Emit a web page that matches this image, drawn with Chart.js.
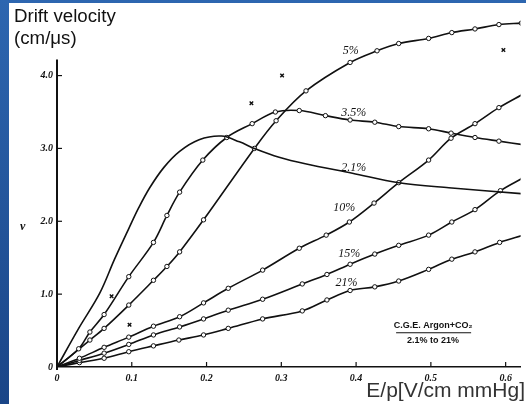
<!DOCTYPE html>
<html>
<head>
<meta charset="utf-8">
<script src="https://cdn.jsdelivr.net/npm/chart.js@4.4.1/dist/chart.umd.min.js"></script>
<style>
  html, body { margin: 0; padding: 0; }
  body { width: 526px; height: 404px; position: relative; overflow: hidden;
         background: linear-gradient(to bottom, #2d66b0, #1a4587); }
  #paper { position: absolute; left: 9px; top: 3px; right: 0; bottom: 0; background: #fff; }
  #wrap { position: absolute; left: 0; top: 0; width: 526px; height: 404px; }
  .txt { position: absolute; font-family: 'Liberation Sans', Arial, sans-serif; white-space: nowrap; }
  #title { left: 14px; top: 5px; font-size: 18.7px; line-height: 22px; color: #111; }
  #xname { right: 1px; top: 378px; font-size: 21px; line-height: 24px; color: #333; }
  #vname { left: 20px; top: 219px; font: italic bold 12px 'Liberation Serif', serif; color: #111; }
</style>
</head>
<body>
<div id="paper"></div>
<div id="wrap"><canvas id="driftChart" width="526" height="404"></canvas></div>
<div class="txt" id="title">Drift velocity<br>(cm/μs)</div>
<div class="txt" id="xname">E/p[V/cm mmHg]</div>
<div class="txt" id="vname">v</div>
<script>
// E/p values (V/cm mmHg) and drift velocity (cm/us) for each CO2 fraction
let ep21 = [0, 0.029, 0.057, 0.077, 0.096, 0.109, 0.124, 0.143, 0.164, 0.19, 0.22, 0.244, 0.264, 0.297, 0.332, 0.395, 0.457, 0.524, 0.621];
let v21 = [0, 0.53, 1.01, 1.48, 1.9, 2.18, 2.46, 2.74, 2.96, 3.12, 3.17, 3.09, 3.0, 2.88, 2.79, 2.66, 2.53, 2.46, 2.38];

let ep35 = [0, 0.029, 0.044, 0.063, 0.096, 0.129, 0.147, 0.164, 0.195, 0.227, 0.261, 0.292, 0.324, 0.359, 0.392, 0.425, 0.457, 0.497, 0.527, 0.559, 0.591, 0.624];
let v35 = [0, 0.25, 0.48, 0.72, 1.24, 1.71, 2.08, 2.40, 2.84, 3.15, 3.34, 3.50, 3.52, 3.45, 3.39, 3.36, 3.30, 3.27, 3.21, 3.15, 3.10, 3.05];

let ep5 = [0, 0.044, 0.063, 0.096, 0.129, 0.147, 0.164, 0.196, 0.264, 0.293, 0.333, 0.392, 0.428, 0.457, 0.497, 0.528, 0.559, 0.591, 0.621];
let v5 = [0, 0.37, 0.53, 0.85, 1.19, 1.38, 1.58, 2.02, 3.0, 3.38, 3.79, 4.18, 4.34, 4.44, 4.51, 4.59, 4.64, 4.70, 4.72];

let ep10 = [0, 0.03, 0.063, 0.096, 0.129, 0.164, 0.196, 0.229, 0.275, 0.324, 0.36, 0.391, 0.424, 0.457, 0.497, 0.527, 0.559, 0.591, 0.624];
let v10 = [0, 0.12, 0.27, 0.41, 0.56, 0.69, 0.88, 1.08, 1.33, 1.63, 1.81, 1.99, 2.25, 2.53, 2.84, 3.14, 3.34, 3.56, 3.75];

let ep15 = [0, 0.03, 0.063, 0.096, 0.129, 0.164, 0.196, 0.229, 0.275, 0.328, 0.361, 0.392, 0.425, 0.457, 0.497, 0.528, 0.559, 0.593, 0.624];
let v15 = [0, 0.09, 0.19, 0.31, 0.44, 0.55, 0.66, 0.78, 0.93, 1.14, 1.27, 1.41, 1.55, 1.67, 1.81, 1.99, 2.16, 2.42, 2.60];

let ep21p = [0, 0.03, 0.063, 0.096, 0.129, 0.163, 0.196, 0.229, 0.275, 0.328, 0.361, 0.392, 0.425, 0.457, 0.497, 0.528, 0.559, 0.592, 0.624];
let v21p = [0, 0.06, 0.12, 0.21, 0.29, 0.37, 0.44, 0.53, 0.66, 0.77, 0.92, 1.05, 1.10, 1.18, 1.34, 1.48, 1.58, 1.71, 1.81];

// stray "x" readings
let crossEp = [0.301, 0.26, 0.597, 0.073, 0.097];
let crossV = [4.0, 3.62, 4.35, 0.97, 0.58];

let xTicks = [0, 0.1, 0.2, 0.3, 0.4, 0.5, 0.6];
let yTicks = [0, 1, 2, 3, 4];

// curve labels: text, E/p, v
let curveLabels = [
    ['5%', 0.393, 4.34],
    ['3.5%', 0.397, 3.49],
    ['2.1%', 0.397, 2.73],
    ['10%', 0.384, 2.18],
    ['15%', 0.391, 1.55],
    ['21%', 0.387, 1.15]
];

function pts(xs, ys) {
    return xs.map((x, i) => ({ x: x, y: ys[i] }));
}

function curve(xs, ys, marks) {
    return {
        data: pts(xs, ys),
        showLine: true,
        borderColor: '#111',
        borderWidth: 1.6,
        tension: 0.35,
        pointRadius: (c) => (marks && c.dataIndex > 0) ? 2.2 : 0,
        pointBackgroundColor: '#fff',
        pointBorderColor: '#111',
        pointBorderWidth: 1
    };
}

let paperPlugin = {
    id: 'paper',
    afterDraw(chart) {
        let ctx = chart.ctx;
        let xs = chart.scales.x, ys = chart.scales.y;
        let x0 = xs.getPixelForValue(0), y0 = ys.getPixelForValue(0);
        ctx.save();
        ctx.strokeStyle = '#111';
        // vertical axis, stops short of the top
        ctx.lineWidth = 2;
        ctx.beginPath();
        ctx.moveTo(x0, y0 + 3);
        ctx.lineTo(x0, ys.getPixelForValue(4.22));
        ctx.stroke();
        // inward tick marks
        ctx.lineWidth = 1.2;
        yTicks.slice(1).forEach(v => {
            let p = ys.getPixelForValue(v);
            ctx.beginPath(); ctx.moveTo(x0, p); ctx.lineTo(x0 + 5, p); ctx.stroke();
        });
        xTicks.slice(1).forEach(v => {
            let p = xs.getPixelForValue(v);
            ctx.beginPath(); ctx.moveTo(p, y0); ctx.lineTo(p, y0 - 5); ctx.stroke();
        });
        // curve labels
        ctx.fillStyle = '#111';
        ctx.font = 'italic 12px "Liberation Serif", serif';
        ctx.textAlign = 'center';
        ctx.textBaseline = 'middle';
        curveLabels.forEach(l => {
            ctx.fillText(l[0], xs.getPixelForValue(l[1]), ys.getPixelForValue(l[2]));
        });
        // gas note
        let nx = xs.getPixelForValue(0.503), ny = ys.getPixelForValue(0.47);
        ctx.font = 'bold 9px "Liberation Sans Narrow", "Liberation Sans", sans-serif';
        ctx.fillText('C.G.E. Argon+CO\u2082', nx, ny - 7);
        ctx.fillText('2.1% to 21%', nx, ny + 8);
        ctx.lineWidth = 1;
        ctx.beginPath(); ctx.moveTo(nx - 37, ny); ctx.lineTo(nx + 38, ny); ctx.stroke();
        ctx.restore();
    }
};

let driftCanvas = document.getElementById('driftChart');

let config = {
    type: 'scatter',
    data: {
        datasets: [
            curve(ep21, v21, false),
            curve(ep35, v35, true),
            curve(ep5, v5, true),
            curve(ep10, v10, true),
            curve(ep15, v15, true),
            curve(ep21p, v21p, true),
            {
                data: pts(crossEp, crossV),
                pointStyle: 'crossRot',
                pointRadius: 2.5,
                borderColor: '#111',
                borderWidth: 1.4
            }
        ]
    },
    options: {
        responsive: false,
        animation: false,
        layout: { padding: { left: 0, right: 4, top: 9, bottom: 0 } },
        plugins: { legend: { display: false }, tooltip: { enabled: false } },
        scales: {
            x: {
                type: 'linear', min: 0, max: 0.62,
                afterFit: (s) => { s.height = 37; },
                afterBuildTicks: (s) => { s.ticks = xTicks.map(v => ({ value: v })); },
                grid: { display: false, drawTicks: false },
                border: { display: true, color: '#111', width: 1.6 },
                ticks: {
                    padding: 5, color: '#111', maxRotation: 0,
                    font: { family: 'Liberation Serif', style: 'italic', weight: 'bold', size: 10 },
                    callback: (v) => v === 0 ? '0' : v.toFixed(1)
                }
            },
            y: {
                type: 'linear', min: 0, max: 4.9,
                afterFit: (s) => { s.width = 57; },
                afterBuildTicks: (s) => { s.ticks = yTicks.map(v => ({ value: v })); },
                grid: { display: false, drawTicks: false },
                border: { display: false },
                ticks: {
                    padding: 4, color: '#111',
                    font: { family: 'Liberation Serif', style: 'italic', weight: 'bold', size: 10 },
                    callback: (v) => v === 0 ? '0' : v.toFixed(1)
                }
            }
        }
    },
    plugins: [paperPlugin]
};

let chart = new Chart(driftCanvas, config);
</script>
</body>
</html>
